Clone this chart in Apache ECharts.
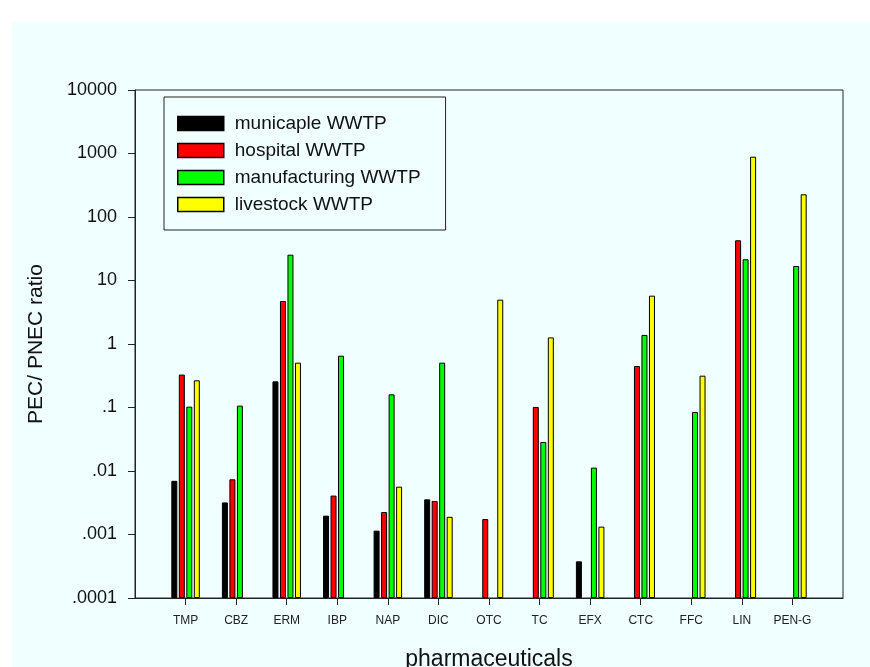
<!DOCTYPE html>
<html>
<head>
<meta charset="utf-8">
<script src="https://cdn.jsdelivr.net/npm/echarts@6/dist/echarts.min.js"></script>
<style>
  html, body { margin: 0; padding: 0; background: #ffffff; }
  #wrap { position: relative; width: 870px; height: 667px; overflow: hidden; }
  #bg { position: absolute; left: 12px; top: 22px; right: 0; bottom: 0; background: #f0ffff; }
  #chart { position: absolute; left: 0; top: 0; width: 870px; height: 667px; }
</style>
</head>
<body>
<div id="wrap"><div id="bg"></div><div id="chart"></div></div>
<script>
const categories = ['TMP', 'CBZ', 'ERM', 'IBP', 'NAP', 'DIC', 'OTC', 'TC', 'EFX', 'CTC', 'FFC', 'LIN', 'PEN-G'];
const seriesNames = ['municaple WWTP', 'hospital WWTP', 'manufacturing WWTP', 'livestock WWTP'];
const municipal = [0.0070, 0.0032, 0.258, 0.00198, 0.00115, 0.00358, null, null, 0.000378, null, null, null, null];
const hospital = [0.33, 0.0074, 4.75, 0.0041, 0.00226, 0.00337, 0.00175, 0.102, null, 0.45, null, 43, null];
const manufacturing = [0.103, 0.107, 25.5, 0.654, 0.161, 0.508, null, 0.0286, 0.0113, 1.39, 0.085, 21.6, 16.9];
const livestock = [0.268, null, 0.508, null, 0.00566, 0.0019, 4.99, 1.27, 0.00133, 5.77, 0.317, 891, 228];
const yTickLabels = ['.0001', '.001', '.01', '.1', '1', '10', '100', '1000', '10000'];
const colors = ['#000000', '#ff0000', '#00ff00', '#ffff00'];

const FONT = 'Liberation Sans, Arial, sans-serif';
const paddedCats = [''].concat(categories, ['']);
const pad = arr => [null].concat(arr, [null]);
const allData = [municipal, hospital, manufacturing, livestock];

const chart = echarts.init(document.getElementById('chart'), null, { renderer: 'canvas' });
chart.setOption({
  backgroundColor: 'transparent',
  animation: false,
  textStyle: { fontFamily: FONT },
  grid: {
    left: 135, right: 27, top: 90, bottom: 69,
    show: true, borderColor: '#222', borderWidth: 1, backgroundColor: 'transparent',
    containLabel: false,
    outerBoundsMode: 'none'
  },
  legend: {
    orient: 'vertical',
    left: 164, top: 97,
    padding: [17, 25, 16, 13],
    itemWidth: 46, itemHeight: 14, itemGap: 8,
    icon: 'rect',
    borderColor: '#222', borderWidth: 1,
    backgroundColor: '#f0ffff',
    textStyle: { fontFamily: FONT, fontSize: 19, lineHeight: 19, color: '#111', padding: [0, 0, 0, 6] },
    itemStyle: { borderColor: '#000', borderWidth: 1.5 },
    data: seriesNames
  },
  xAxis: {
    type: 'category',
    data: paddedCats,
    boundaryGap: false,
    name: 'pharmaceuticals',
    nameLocation: 'middle',
    nameGap: 50,
    nameTextStyle: { fontFamily: FONT, fontSize: 23, color: '#111' },
    axisLine: { lineStyle: { color: '#222', width: 1 } },
    axisTick: { show: true, length: 7, inside: false, interval: (i, v) => v !== '', lineStyle: { color: '#222' } },
    axisLabel: { interval: 0, margin: 17, fontSize: 12, color: '#222', fontFamily: FONT },
    splitLine: { show: false }
  },
  yAxis: {
    type: 'log',
    logBase: 10,
    min: 0.0001,
    max: 10000,
    interval: 1,
    startValue: 0.0001,
    name: 'PEC/ PNEC ratio',
    nameLocation: 'middle',
    nameGap: 88,
    nameRotate: 90,
    nameTextStyle: { fontFamily: FONT, fontSize: 21, color: '#111' },
    axisLine: { show: true, lineStyle: { color: '#222', width: 1 } },
    axisTick: { show: true, length: 7, inside: false, lineStyle: { color: '#222' } },
    minorTick: { show: false },
    axisLabel: {
      margin: 18, fontSize: 18, color: '#111', fontFamily: FONT,
      formatter: v => yTickLabels[Math.round(Math.log10(v)) + 4]
    },
    splitLine: { show: false }
  },
  series: seriesNames.map((name, k) => ({
    name: name,
    type: 'bar',
    data: pad(allData[k]),
    barWidth: 6,
    barGap: '25%',
    itemStyle: { color: colors[k], borderColor: '#000', borderWidth: 1 }
  }))
});
</script>
</body>
</html>
